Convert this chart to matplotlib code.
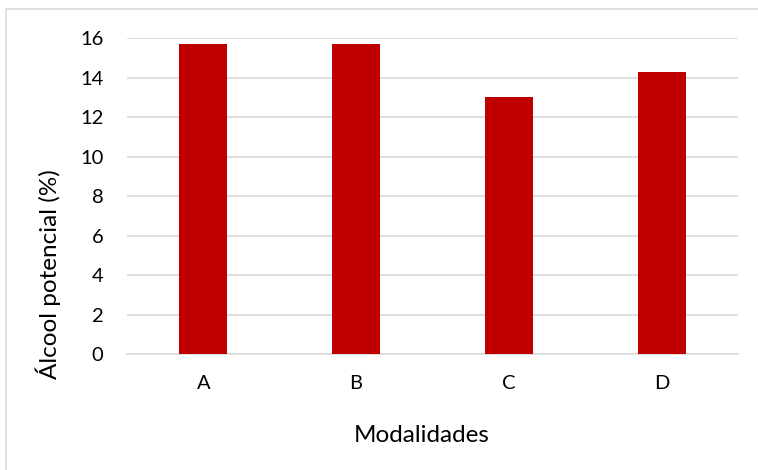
import numpy as np
import matplotlib
matplotlib.use('Agg')
import matplotlib.pyplot as plt
from matplotlib.patches import Rectangle

modalidades = ['A', 'B', 'C', 'D']
alcool = [15.7, 15.7, 13.0, 14.3]
yticks = [0, 2, 4, 6, 8, 10, 12, 14, 16]

plt.rcParams['font.family'] = ['Lato', 'DejaVu Sans']

fig = plt.figure(figsize=(7.58, 4.70), dpi=100)
ax = fig.add_axes([0.1675, 0.2468, 0.8061, 0.6723])

x = np.arange(len(modalidades))
ax.bar(x, alcool, width=0.314, color='#C00000', zorder=3)

ax.set_xlim(-0.5, len(modalidades) - 0.5)
ax.set_ylim(0, 16)
ax.set_yticks(yticks)
ax.set_xticks(x)
ax.set_xticklabels(modalidades)
ax.yaxis.grid(True, color='#D9D9D9', linewidth=1.2, zorder=0)

for s in ['top', 'right', 'left']:
    ax.spines[s].set_visible(False)
ax.spines['bottom'].set_color('#D9D9D9')
ax.spines['bottom'].set_linewidth(1.2)
ax.tick_params(axis='both', length=0, labelsize=14.5, colors='#000000')
ax.tick_params(axis='y', pad=17)
ax.tick_params(axis='x', pad=15)

# axis titles placed like the excel chart
fig.text(48.5 / 758, 1 - 274 / 470, 'Álcool potencial (%)', fontsize=17.5,
         rotation=90, ha='center', va='center')
fig.text(422 / 758, 1 - 442.3 / 470, 'Modalidades', fontsize=17.5,
         ha='center', va='baseline')

# border of chart area
fig.patches.append(Rectangle((6 / 758, -0.1), 1.2, 1 - 9 / 470 + 0.1,
                             transform=fig.transFigure, fill=False,
                             edgecolor='#D9D9D9', linewidth=1.2))

fig.savefig('out.png', dpi=100)
